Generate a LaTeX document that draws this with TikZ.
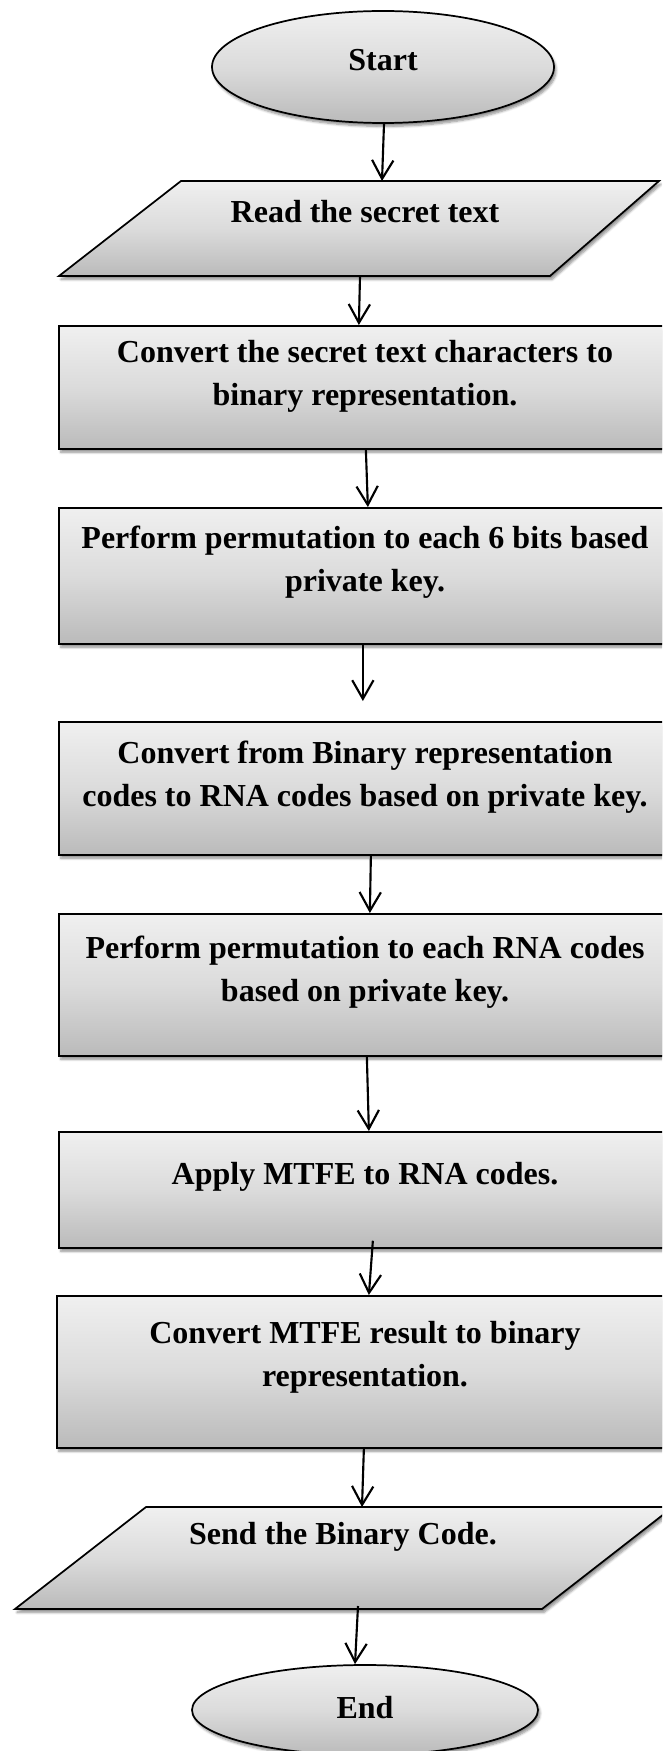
\documentclass[tikz,border=0pt]{standalone}
\usepackage{fontspec}
\setmainfont{Liberation Serif}
\usetikzlibrary{arrows.meta,shapes.geometric,shadows.blur,calc}

\tikzset{
  shade3d/.style={top color=black!6, bottom color=black!27, middle color=black!14},
  shadowed/.style={blur shadow={shadow xshift=1.5pt, shadow yshift=-2.5pt,
                   shadow blur steps=6, shadow opacity=45}},
  outline/.style={draw=black, line width=1.3pt},
  stepbox/.style={rectangle, outline, shade3d, shadowed, anchor=north west, inner sep=0pt},
  terminal/.style={ellipse, outline, shade3d, shadowed, inner sep=0pt},
  iobox/.style={outline, shade3d, shadowed},
  label/.style={font=\fontsize{24pt}{32.25pt}\selectfont\bfseries, align=center, inner sep=0pt},
  flow/.style={line width=1.6pt, -{Straight Barb[length=14pt, width=16pt, line width=1.6pt]}}
}

\begin{document}
\begin{tikzpicture}[x=0.75pt, y=-0.75pt]
  \useasboundingbox (0,0) rectangle (662,1751);
  \clip (0,0) rectangle (662,1751);

  % terminals
  \node[terminal, minimum width=342*0.75pt, minimum height=112*0.75pt] (start) at (383,67) {};
  \node[label] (starttxt) at (383,60) {Start};

  \node[terminal, minimum width=346*0.75pt, minimum height=90*0.75pt] (end) at (365,1710) {};
  \node[label] (endtxt) at (365,1708) {End};

  % input parallelogram
  \coordinate (readtl) at (181,181);
  \coordinate (readbr) at (550,276);
  \draw[iobox] (readtl) -- (659,181) -- (readbr) -- (59,276) -- cycle;
  \node[label] (read) at (365,212) {Read the secret text};

  % processing steps
  \node[stepbox, minimum width=614*0.75pt, minimum height=123*0.75pt] (r1) at (58,325) {};
  \node[label] (t1) at (365,376) {Convert the secret text characters to\\binary representation.};

  \node[stepbox, minimum width=614*0.75pt, minimum height=136*0.75pt] (r2) at (58,507) {};
  \node[label] (t2) at (365,562) {Perform permutation to each 6 bits based\\private key.};

  \node[stepbox, minimum width=614*0.75pt, minimum height=133*0.75pt] (r3) at (58,721) {};
  \node[label] (t3) at (365,777) {Convert from Binary representation\\codes to RNA codes based on private key.};

  \node[stepbox, minimum width=614*0.75pt, minimum height=142*0.75pt] (r4) at (58,913) {};
  \node[label] (t4) at (365,972) {Perform permutation to each RNA codes\\based on private key.};

  \node[stepbox, minimum width=614*0.75pt, minimum height=116*0.75pt] (r5) at (58,1131) {};
  \node[label] (t5) at (365,1177) {Apply MTFE to RNA codes.};

  \node[stepbox, minimum width=616*0.75pt, minimum height=152*0.75pt] (r6) at (56,1295) {};
  \node[label] (t6) at (365,1357) {Convert MTFE result to binary\\representation.};

  % output parallelogram
  \coordinate (sendtl) at (146,1507);
  \coordinate (sendbr) at (542,1609);
  \draw[iobox] (sendtl) -- (673,1507) -- (sendbr) -- (15,1609) -- cycle;
  \node[label] (send) at (343,1537) {Send the Binary Code.};

  % connectors
  \draw[flow] ([xshift=0.75pt]start.south) -- ($(readtl)+(201,0)$);
  \draw[flow] ($(readbr)+(-190,0)$) -- ([xshift=-5.25pt]r1.north);
  \draw[flow] ([xshift=0pt]r1.south) -- ([xshift=1.5pt]r2.north);
  \draw[flow] ([xshift=-2.25pt]r2.south) -- ([xshift=-2.25pt, yshift=15pt]r3.north);
  \draw[flow] ([xshift=3.75pt]r3.south) -- ([xshift=3pt]r4.north);
  \draw[flow] ([xshift=0.75pt]r4.south) -- ([xshift=2.25pt]r5.north);
  \draw[flow] ([xshift=5.25pt, yshift=6pt]r5.south) -- ([xshift=3pt]r6.north);
  \draw[flow] ([xshift=-0.75pt]r6.south) -- ($(sendtl)+(216,0)$);
  \draw[flow] ($(sendbr)+(-184,-3)$) -- ([xshift=-7.5pt]end.north);
\end{tikzpicture}
\end{document}
